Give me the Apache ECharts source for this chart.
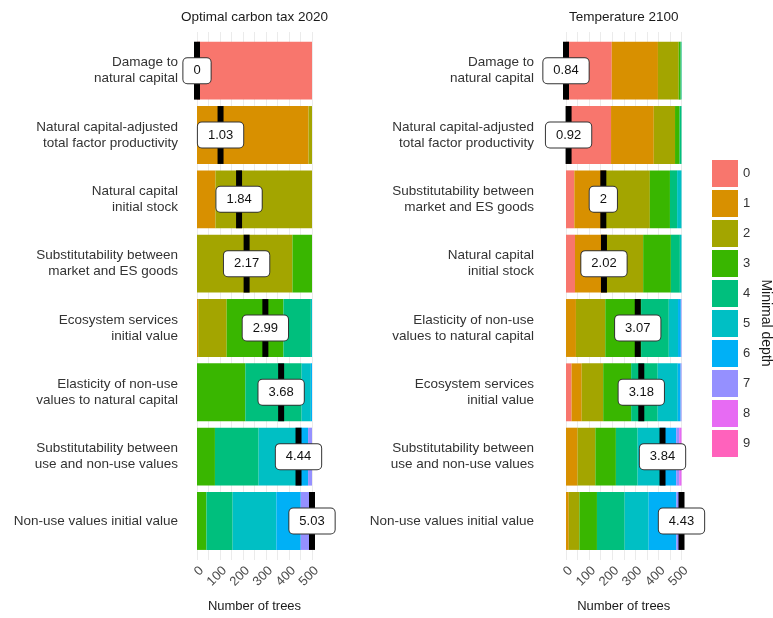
<!DOCTYPE html>
<html>
<head>
<meta charset="utf-8">
<title>Minimal depth distribution</title>
<script src="https://cdn.jsdelivr.net/npm/echarts@6/dist/echarts.min.js"></script>
<style>
  html, body { margin: 0; padding: 0; background: #ffffff; }
  #chart { width: 773px; height: 618px; }
</style>
</head>
<body>
<div id="chart"></div>
<script>
// Minimal depth levels and their colours
const depthLevels = ['0', '1', '2', '3', '4', '5', '6', '7', '8', '9'];
const depthColors = ['#F8766D', '#D89000', '#A3A500', '#39B600', '#00BF7D',
                     '#00BFC4', '#00B0F6', '#9590FF', '#E76BF3', '#FF62BC'];

// Panel 1: optimal carbon tax 2020
const taxVariables = [
  'Damage to\nnatural capital',
  'Natural capital-adjusted\ntotal factor productivity',
  'Natural capital\ninitial stock',
  'Substitutability between\nmarket and ES goods',
  'Ecosystem services\ninitial value',
  'Elasticity of non-use\nvalues to natural capital',
  'Substitutability between\nuse and non-use values',
  'Non-use values initial value'
];
// number of trees per minimal depth 0..9, one row per variable
const taxTrees = [
  [500, 0, 0, 0, 0, 0, 0, 0, 0, 0],
  [0, 485, 15, 0, 0, 0, 0, 0, 0, 0],
  [0, 80, 420, 0, 0, 0, 0, 0, 0, 0],
  [0, 0, 415, 85, 0, 0, 0, 0, 0, 0],
  [0, 5, 124, 247, 119, 5, 0, 0, 0, 0],
  [0, 0, 0, 210, 245, 40, 5, 0, 0, 0],
  [0, 0, 0, 78, 190, 184, 31, 17, 0, 0],
  [0, 0, 0, 41, 114, 190, 106, 40, 9, 0]
];
const taxMeans = [0, 1.03, 1.84, 2.17, 2.99, 3.68, 4.44, 5.03];

// Panel 2: temperature 2100
const tempVariables = [
  'Damage to\nnatural capital',
  'Natural capital-adjusted\ntotal factor productivity',
  'Substitutability between\nmarket and ES goods',
  'Natural capital\ninitial stock',
  'Elasticity of non-use\nvalues to natural capital',
  'Ecosystem services\ninitial value',
  'Substitutability between\nuse and non-use values',
  'Non-use values initial value'
];
const tempTrees = [
  [198, 200, 90, 8, 4, 0, 0, 0, 0, 0],
  [195, 185, 92, 20, 8, 0, 0, 0, 0, 0],
  [36, 136, 191, 87, 31, 19, 0, 0, 0, 0],
  [39, 130, 165, 120, 39, 7, 0, 0, 0, 0],
  [0, 43, 127, 155, 120, 40, 12, 3, 0, 0],
  [24, 44, 93, 121, 115, 87, 12, 4, 0, 0],
  [0, 50, 77, 89, 94, 100, 67, 13, 10, 0],
  [0, 12, 46, 76, 120, 104, 120, 15, 7, 0]
];
const tempMeans = [0.84, 0.92, 2, 2.02, 3.07, 3.18, 3.84, 4.43];

const panelTitles = ['Optimal carbon tax 2020', 'Temperature 2100'];
const xTickValues = [0, 100, 200, 300, 400, 500];
const xAxisTitle = 'Number of trees';
const legendTitle = 'Minimal depth';

const FONT = '"Liberation Sans", Arial, Helvetica, sans-serif';
const TOTAL_TREES = 500;

// panel geometry
const panels = [
  { left: 197, width: 115, labelMargin: 19, vars: taxVariables, trees: taxTrees, means: taxMeans },
  { left: 566, width: 115.5, labelMargin: 32, vars: tempVariables, trees: tempTrees, means: tempMeans }
];
const bgTop = 32, bgBottom = 560;     // full panel height (grid lines)
const barTop = 38.5, barBand = 64.33;  // category band layout

const grid = [], xAxis = [], yAxis = [], series = [], graphic = [];

panels.forEach((p, k) => {
  const bgIdx = 2 * k, dataIdx = 2 * k + 1;

  // background grid: vertical grid lines and tick labels
  grid.push({ left: p.left, width: p.width, top: bgTop, height: bgBottom - bgTop });
  xAxis.push({
    gridIndex: bgIdx, type: 'value', min: 0, max: TOTAL_TREES, interval: 50,
    axisLine: { show: false }, axisTick: { show: false },
    splitLine: { show: true, lineStyle: { color: '#ebebeb', width: 1 } },
    axisLabel: {
      rotate: 45, margin: 4, fontSize: 13, color: '#4d4d4d', fontFamily: FONT,
      align: 'right', verticalAlign: 'top',
      formatter: v => (xTickValues.indexOf(v) >= 0 ? String(v) : '')
    }
  });
  yAxis.push({ gridIndex: bgIdx, type: 'value', min: 0, max: 1, show: false });

  // data grid: stacked bars per category
  grid.push({ left: p.left, width: p.width, top: barTop, height: barBand * p.vars.length });
  xAxis.push({
    gridIndex: dataIdx, type: 'value', min: 0, max: TOTAL_TREES,
    axisLine: { show: false }, axisTick: { show: false },
    axisLabel: { show: false }, splitLine: { show: false }
  });
  yAxis.push({
    gridIndex: dataIdx, type: 'category', inverse: true, data: p.vars,
    axisLine: { show: false }, axisTick: { show: false }, splitLine: { show: false },
    axisLabel: {
      margin: p.labelMargin, fontSize: 13.5, lineHeight: 16, color: '#333333',
      fontFamily: FONT, align: 'right'
    }
  });

  depthLevels.forEach((lvl, d) => {
    series.push({
      name: lvl, type: 'bar', stack: 'panel' + k,
      xAxisIndex: dataIdx, yAxisIndex: dataIdx,
      barWidth: '90%',
      itemStyle: { color: depthColors[d] },
      emphasis: { disabled: true },
      data: p.trees.map(row => row[d])
    });
  });

  // mean minimal depth markers, rescaled onto the tree-count axis
  const mMin = Math.min(...p.means), mMax = Math.max(...p.means);
  series.push({
    type: 'custom', xAxisIndex: dataIdx, yAxisIndex: dataIdx, z: 10,
    clip: false,
    data: p.means.map((m, i) => [(m - mMin) / (mMax - mMin) * TOTAL_TREES, i, m]),
    renderItem: (params, api) => {
      const pt = api.coord([api.value(0), api.value(1)]);
      const h = api.size([0, 1])[1] * 0.9;
      const label = String(Math.round(api.value(2) * 100) / 100);
      return {
        type: 'group',
        children: [
          { type: 'rect', shape: { x: pt[0] - 3, y: pt[1] - h / 2, width: 6, height: h },
            style: { fill: '#000000' } },
          { type: 'text', x: pt[0], y: pt[1], z2: 20,
            style: {
              text: label, align: 'center', verticalAlign: 'middle',
              fontSize: 13, fontFamily: FONT, fill: '#111111', lineHeight: 15,
              backgroundColor: '#ffffff', borderColor: '#333333', borderWidth: 1,
              borderRadius: 4, padding: [5, 10]
            } }
        ]
      };
    }
  });

  const cx = p.left + p.width / 2;
  graphic.push({
    type: 'text', x: cx, y: 17,
    style: { text: panelTitles[k], align: 'center', verticalAlign: 'middle',
             fontSize: 13.5, fontFamily: FONT, fill: '#1a1a1a' }
  });
  graphic.push({
    type: 'text', x: cx, y: 606,
    style: { text: xAxisTitle, align: 'center', verticalAlign: 'middle',
             fontSize: 13, fontFamily: FONT, fill: '#1a1a1a' }
  });
});

graphic.push({
  type: 'text', x: 766, y: 323, rotation: -Math.PI / 2,
  style: { text: legendTitle, align: 'center', verticalAlign: 'middle',
           fontSize: 14, fontFamily: FONT, fill: '#1a1a1a' }
});

const chart = echarts.init(document.getElementById('chart'), null, { renderer: 'canvas' });
chart.setOption({
  animation: false,
  backgroundColor: '#ffffff',
  grid, xAxis, yAxis, series, graphic,
  legend: {
    data: depthLevels, orient: 'vertical', left: 707, top: 155,
    icon: 'rect', itemWidth: 26, itemHeight: 27, itemGap: 3,
    selectedMode: false,
    textStyle: { fontSize: 13, color: '#333333', fontFamily: FONT }
  }
});
</script>
</body>
</html>
